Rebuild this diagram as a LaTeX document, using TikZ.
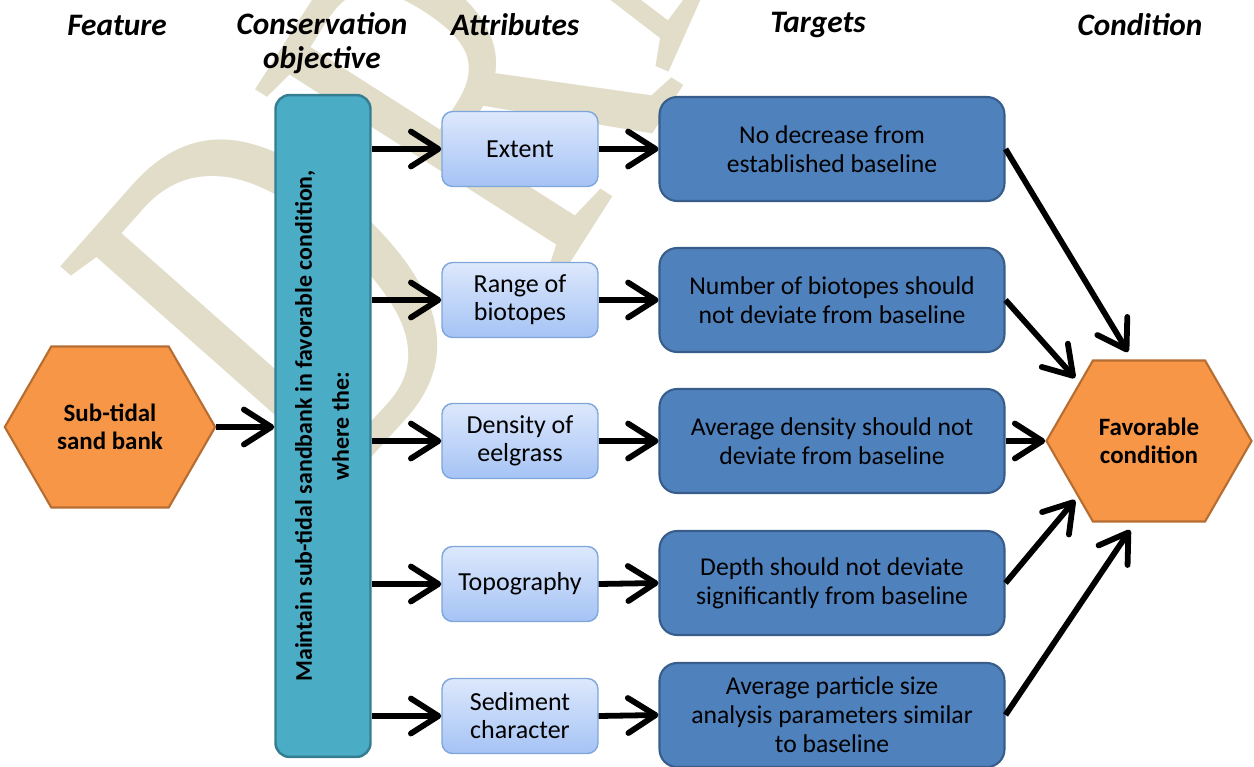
\documentclass[tikz,border=0pt]{standalone}
\usepackage{fontspec}
\setmainfont{Carlito}
\newfontfamily\wmfont{Liberation Serif}
\usetikzlibrary{arrows.meta,shapes.symbols}

\definecolor{hexorange}{HTML}{F79646}
\definecolor{hexline}{HTML}{B66D31}
\definecolor{barfill}{HTML}{4BACC6}
\definecolor{barline}{HTML}{357D91}
\definecolor{attrtop}{HTML}{DDE8FC}
\definecolor{attrbot}{HTML}{A5C3F5}
\definecolor{attrline}{HTML}{7EA6DA}
\definecolor{tgtfill}{HTML}{4F81BD}
\definecolor{tgtline}{HTML}{385D8A}
\definecolor{wmbeige}{HTML}{E1DDC9}

\begin{document}
\begin{tikzpicture}[x=0.02cm, y=0.02cm]
	\tikzset{head/.style={font=\fontsize{17.8}{19.5}\selectfont\bfseries\itshape, align=center},
		hexbox/.style={signal, signal to=west and east, signal pointer angle=120, draw=hexline, line width=1.2pt, fill=hexorange, minimum width=4.08cm, minimum height=3.22cm, align=center, font=\fontsize{14.2}{16}\selectfont\bfseries},
		barbox/.style={rounded corners=8pt, draw=barline, fill=barfill, line width=1.4pt, minimum width=1.9cm, minimum height=13.24cm, font=\fontsize{13.6}{21}\selectfont\bfseries},
		attrbox/.style={rounded corners=6pt, draw=attrline, top color=attrtop, bottom color=attrbot, line width=0.8pt, minimum width=3.12cm, minimum height=1.5cm, align=center, font=\fontsize{14.8}{16}\selectfont},
		tgtbox/.style={rounded corners=10pt, draw=tgtline, fill=tgtfill, line width=1.2pt, minimum width=6.9cm, minimum height=2.08cm, align=center, font=\fontsize{14.6}{16.5}\selectfont},
		wmark/.style={text=wmbeige, font=\wmfont\fontsize{312}{312}\selectfont, inner sep=0pt, anchor=base west},
		arr/.style={line width=3.3pt, -{Straight Barb[round, length=5.5mm, width=7mm]}}};

	\useasboundingbox (0,0) rectangle (1254,-767);

	% watermark letters, set along a slight arc
	\begin{scope}
		\clip (0,0) rectangle (1254,-767);
		\node[wmark, rotate=48.5] (wmd) at (322,-513) {\scalebox{0.67}[1]{D}};
		\node[wmark, rotate=57.5] (wmr) at (552,-292) {\scalebox{0.67}[1]{R}};
		\node[wmark, rotate=66] (wma) at (667,-76) {\scalebox{0.67}[1]{A}};
	\end{scope}

	% column heads
	\node[head] (hfeat) at (117,-25) {Feature};
	\node[head] (hcons) at (322,-43) {Conservation\\objective};
	\node[head] (hattr) at (515,-25) {Attributes};
	\node[head] (htgt) at (818,-25) {Targets};
	\node[head] (hcond) at (1140,-25) {Condition};

	\node[hexbox] (feat) at (110,-427) {Sub-tidal\\sand bank};
	\node[barbox] (obj) at (323,-426) {\rotatebox{90}{\begin{tabular}{@{}c@{}}Maintain sub-tidal sandbank in favorable condition,\\where the:\end{tabular}}};

	\node[attrbox] (ext) at (520,-149) {Extent};
	\node[attrbox] (rng) at (520,-300) {Range of\\biotopes};
	\node[attrbox] (dens) at (520,-441) {Density of\\eelgrass};
	\node[attrbox] (topo) at (520,-584) {Topography};
	\node[attrbox] (sed) at (520,-716) {Sediment\\character};

	\node[tgtbox] (t1) at (832,-149) {No decrease from\\established baseline};
	\node[tgtbox] (t2) at (832,-300) {Number of biotopes should\\not deviate from baseline};
	\node[tgtbox] (t3) at (832,-441) {Average density should not\\deviate from baseline};
	\node[tgtbox] (t4) at (832,-583) {Depth should not deviate\\significantly from baseline};
	\node[tgtbox] (t5) at (832,-715) {Average particle size\\analysis parameters similar\\to baseline};

	\node[hexbox] (cond) at (1149,-441) {Favorable\\condition};

	\coordinate (c1) at (1128,-352);
	\coordinate (c2) at (1075,-378);
	\coordinate (c4) at (1075,-500);
	\coordinate (c5) at (1130,-530);

	\draw[arr] (feat.east) -- (obj.west |- feat.east);
	\foreach \a/\t in {ext/t1, rng/t2, dens/t3, topo/t4, sed/t5} {
		\draw[arr] (obj.east |- \a.west) -- (\a.west);
		\draw[arr] (\a.east) -- (\t.west);
	}

	\draw[arr] (t1.east) -- (c1);
	\draw[arr] (t2.east) -- (c2);
	\draw[arr] (t3.east) -- (cond.west);
	\draw[arr] (t4.east) -- (c4);
	\draw[arr] (t5.east) -- (c5);

\end{tikzpicture}
\end{document}
